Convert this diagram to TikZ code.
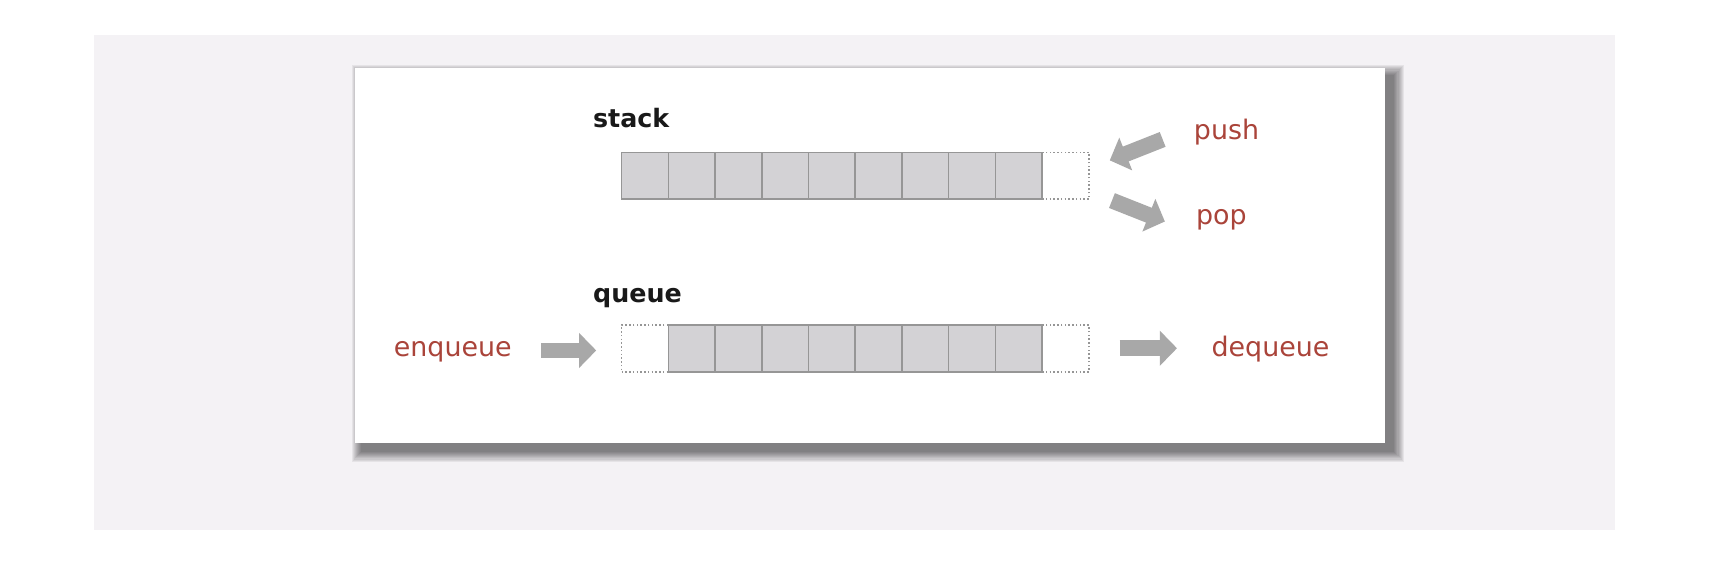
\documentclass[tikz,border=0pt]{standalone}
\usepackage{fontspec}
\setmainfont{DejaVu Sans}
\usetikzlibrary{arrows.meta}
\definecolor{bggray}{RGB}{244,242,245}
\definecolor{labelred}{RGB}{170,68,58}
\definecolor{arrowgray}{RGB}{168,168,168}
\definecolor{cellfill}{RGB}{211,210,213}
\definecolor{cellline}{RGB}{150,150,150}
\definecolor{titleblack}{RGB}{25,25,25}
\begin{document}
\begin{tikzpicture}[x=0.5pt,y=-0.5pt,
  cellbox/.style={draw=cellline, fill=cellfill, line width=0.7pt, minimum width=21.2pt, minimum height=21.2pt, inner sep=0pt, outer sep=0pt, anchor=north west},
  emptybox/.style={cellbox, fill=white, densely dotted},
  title/.style={font=\fontsize{11.5pt}{14pt}\selectfont\bfseries, text=titleblack, anchor=base west, inner sep=0pt},
  oplabel/.style={font=\fontsize{12.2pt}{14pt}\selectfont, text=labelred, anchor=base west, inner sep=0pt},
  blockarrow/.style={draw=arrowgray, line width=7.2pt, line cap=butt, -{Triangle[length=7.8pt,width=15.5pt]}},
]
\useasboundingbox (0,0) rectangle (1568,521);
\fill[white] (0,0) rectangle (1568,521);
\fill[bggray] (85,32) rectangle (1465,481);
% card shadow
\foreach \k in {1,...,10} {
  \fill[black,opacity=0.06] ({322+7-\k},{62+7-\k}) rectangle ({1257+7+\k},{402+7+\k});
}
\fill[white] (322,62) rectangle (1257,402);

% stack array
\node[emptybox] (s10) at ({564+42.4*9},138.2) {};
\foreach \i in {1,...,9} {
  \node[cellbox] (s\i) at ({564+42.4*(\i-1)},138.2) {};
}
% queue array
\node[emptybox] (q1) at (564,295) {};
\node[emptybox] (q10) at ({564+42.4*9},295) {};
\foreach \i in {2,...,9} {
  \node[cellbox] (q\i) at ({564+42.4*(\i-1)},295) {};
}

% labels
\node[title] (stacklbl) at (537.8,115.9) {stack};
\node[title] (queuelbl) at (537.8,274.3) {queue};
\node[oplabel] (push) at (1083,127) {push};
\node[oplabel] (pop) at (1085,204) {pop};
\node[oplabel] (enq) at (357,323.7) {enqueue};
\node[oplabel] (deq) at (1099,323.7) {dequeue};

% arrows
\coordinate (pushT) at (1055,126.5);
\coordinate (pushH) at (1007,145.5);
\coordinate (popT) at (1009,182);
\coordinate (popH) at (1057,201);
\coordinate (enqT) at (491,318);
\coordinate (enqH) at (541,318);
\coordinate (deqT) at (1016,316);
\coordinate (deqH) at (1068,316);
\draw[blockarrow] (pushT) -- (pushH);
\draw[blockarrow] (popT) -- (popH);
\draw[blockarrow] (enqT) -- (enqH);
\draw[blockarrow] (deqT) -- (deqH);
\end{tikzpicture}
\end{document}
